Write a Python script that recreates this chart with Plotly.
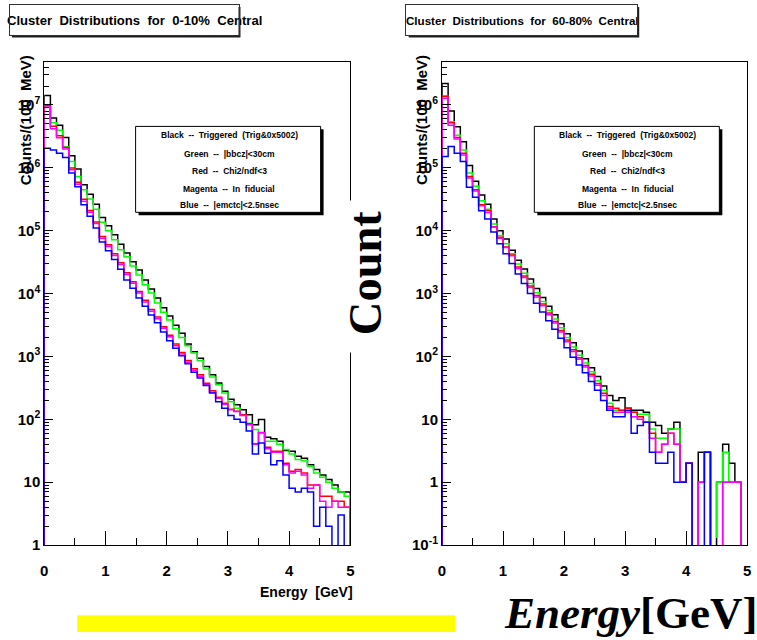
import plotly.graph_objects as go

# ---------------------------------------------------------------- data
# Counts per 100 MeV bin, 50 bins from 0 to 5 GeV
BIN_WIDTH = 0.1
N_BINS = 50

# 0-10% central
central_black = [14100000, 6200000, 4750000, 3050000, 1550000, 960000, 540000, 380000, 264000, 163000,
                 120000, 86000, 60700, 44400, 32000, 23700, 16500, 11800, 8500, 5930,
                 4390, 3130, 2350, 1575, 1190, 940, 690, 510, 380, 280,
                 209, 170, 142, 118, 82, 99, 52, 49, 45, 32,
                 31, 26, 24, 19, 16, 13, 11, 9, 7, 7]
central_green = [9800000, 5200000, 3960000, 2170000, 1260000, 730000, 450000, 320000, 220000, 136000,
                 100000, 72000, 50000, 38400, 27400, 19800, 13800, 10200, 7100, 5070,
                 3800, 2770, 2000, 1480, 1140, 860, 630, 470, 355, 263,
                 190, 150, 117, 87, 69, 61, 45, 45, 40, 33,
                 28, 23, 22, 18, 14, 12, 10, 8, 7, 6]
central_red = [9800000, 4600000, 3240000, 2100000, 990000, 590000, 316000, 210000, 138000, 81000,
               60000, 43200, 30900, 21500, 15500, 10800, 7820, 5590, 4230, 2980,
               2180, 1575, 1160, 860, 640, 514, 375, 285, 225, 180,
               145, 135, 118, 85, 41, 62, 36, 31, 31, 20,
               15, 16, 14, 9, 9, 6, 6, 5, 5, 4]
central_magenta = [9300000, 4200000, 3000000, 2000000, 930000, 550000, 295000, 197000, 130000, 76000,
                   56000, 40500, 29000, 20200, 14600, 10200, 7350, 5250, 3980, 2800,
                   2050, 1480, 1090, 810, 600, 485, 355, 270, 216, 174,
                   142, 133, 115, 82, 40, 61, 34, 30, 30, 19,
                   14, 15, 13, 8, 9, 5, 4, 5, 4, 4]
central_blue = [2050000, 1920000, 1710000, 1460000, 830000, 500000, 260000, 170000, 110000, 66000,
                48000, 35000, 24300, 16500, 12200, 8500, 6300, 4550, 3440, 2460,
                1780, 1350, 1030, 765, 560, 455, 345, 262, 190, 150,
                115, 100, 90, 65, 28, 42, 29, 19, 22, 13,
                8, 7, 8, 7, 2, 4, 2, 0, 3, 0]

# 60-80% central
periph_black = [2200000, 800000, 450000, 260000, 109000, 61000, 37000, 26400, 15300, 10000,
                7400, 4900, 3400, 2450, 1700, 1200, 870, 630, 460, 330,
                230, 165, 122, 92, 66, 48, 34, 24, 20, 22,
                15, 14, 14, 13, 9, 8, 6, 7, 9, 1,
                2, 0, 3, 3, 0, 1, 4, 2, 1, 0]
periph_green = [1370000, 540000, 330000, 192000, 83000, 51000, 30000, 22000, 12800, 8400,
                6200, 4300, 2950, 2100, 1450, 1030, 750, 540, 395, 285,
                200, 142, 105, 79, 57, 41, 29, 18, 14, 14,
                13, 13, 12, 12, 7, 5, 5, 7, 7, 1,
                2, 0, 1, 3, 0, 1, 3, 1, 1, 0]
periph_red = [1370000, 520000, 305000, 170000, 73000, 45000, 26000, 21000, 11600, 7900,
              5500, 4100, 2650, 1900, 1320, 930, 680, 490, 360, 260,
              182, 128, 95, 72, 52, 37, 26, 16, 15, 14,
              15, 13, 11, 9, 6, 3, 4, 6, 4, 1,
              2, 0, 1, 3, 0, 0, 1, 1, 1, 0]
periph_magenta = [1280000, 475000, 287000, 160000, 69000, 43000, 25000, 19500, 11500, 7600,
                  5400, 4000, 2500, 1800, 1250, 880, 640, 460, 340, 245,
                  172, 120, 90, 68, 49, 35, 24, 15, 13, 13,
                  13, 11, 10, 9, 5, 3, 4, 6, 4, 1,
                  2, 0, 1, 3, 0, 0, 1, 1, 1, 0]
periph_blue = [152000, 218000, 170000, 126000, 49000, 34000, 20700, 15300, 9500, 6200,
               4300, 3000, 2050, 1450, 1000, 700, 510, 370, 270, 195,
               138, 97, 73, 55, 40, 29, 20, 14, 11, 11,
               14, 6, 8, 9, 3, 2, 2, 3, 1, 1,
               2, 0, 0, 3, 0, 0, 0, 0, 0, 0]

SERIES_COLORS = ["#000000", "#00ff00", "#ff0000", "#ff00ff", "#0000ff"]

X_TICKS = [0, 1, 2, 3, 4, 5]
X_TICK_TEXT = ["0", "1", "2", "3", "4", "5"]
Y_TICKS_CENTRAL = [1, 10, 1e2, 1e3, 1e4, 1e5, 1e6, 1e7]
Y_TEXT_CENTRAL = ["1", "10", "10<sup>2</sup>", "10<sup>3</sup>", "10<sup>4</sup>",
                  "10<sup>5</sup>", "10<sup>6</sup>", "10<sup>7</sup>"]
Y_TICKS_PERIPH = [0.1, 1, 10, 1e2, 1e3, 1e4, 1e5, 1e6]
Y_TEXT_PERIPH = ["10<sup>-1</sup>", "1", "10", "10<sup>2</sup>", "10<sup>3</sup>",
                 "10<sup>4</sup>", "10<sup>5</sup>", "10<sup>6</sup>"]

LEGEND_LINES = ["Black  --  Triggered  (Trig&amp;0x5002)",
                "Green  --  |bbcz|&lt;30cm",
                "Red  --  Chi2/ndf&lt;3",
                "Magenta  --  In  fiducial",
                "Blue  --  |emctc|&lt;2.5nsec"]

W, H = 757, 640


def px(x):
    return x / W


def py(y):
    return 1 - y / H


def step_outline(counts, floor):
    """Closed ROOT-style histogram outline (hv steps) from bin counts."""
    edges = [round(i * BIN_WIDTH, 3) for i in range(N_BINS + 1)]
    vals = [c if c > 0 else floor for c in counts]
    xs = [edges[0]] + edges + [edges[-1]]
    ys = [floor] + vals + [vals[-1], floor]
    return xs, ys


fig = go.Figure()

panels = [
    ("x", "y", [central_black, central_green, central_red, central_magenta, central_blue], 1e-3),
    ("x2", "y2", [periph_black, periph_green, periph_red, periph_magenta, periph_blue], 1e-4),
]
for xa, ya, series, floor in panels:
    for counts, col in zip(series, SERIES_COLORS):
        xs, ys = step_outline(counts, floor)
        fig.add_trace(go.Scatter(x=xs, y=ys, mode="lines", xaxis=xa, yaxis=ya,
                                 line=dict(color=col, width=1.5, shape="hv"),
                                 hoverinfo="skip", showlegend=False))

TICK_FONT = dict(family="Liberation Sans, Arial", size=15, color="black", weight="bold")

x_common = dict(range=[0, 5], tickvals=X_TICKS, ticktext=X_TICK_TEXT, ticks="inside",
                ticklen=14, tickwidth=1, tickcolor="black", showline=True, mirror=True,
                linecolor="black", linewidth=1, showgrid=False, zeroline=False,
                tickfont=TICK_FONT, ticklabelstandoff=12,
                minor=dict(ticks="inside", ticklen=7, dtick=0.5,
                           tickcolor="black", showgrid=False))
y_common = dict(type="log", ticks="inside", ticklen=9, tickwidth=1, tickcolor="black",
                showline=True, mirror=True, linecolor="black", linewidth=1,
                showgrid=False, zeroline=False, tickfont=TICK_FONT,
                minor=dict(ticks="inside", ticklen=5, dtick="D1", tickcolor="black",
                           showgrid=False))

Y_DOMAIN = [py(552), py(63)]
fig.update_layout(
    width=W, height=H, autosize=False, margin=dict(l=0, r=0, t=0, b=0),
    paper_bgcolor="white", plot_bgcolor="white", showlegend=False,
    xaxis=dict(domain=[px(40.7), px(350)], anchor="y", **x_common),
    yaxis=dict(domain=Y_DOMAIN, anchor="x", range=[0, 7.68],
               tickvals=Y_TICKS_CENTRAL, ticktext=Y_TEXT_CENTRAL, **y_common),
    xaxis2=dict(domain=[px(442.7), px(751)], anchor="y2", **x_common),
    yaxis2=dict(domain=Y_DOMAIN, anchor="x2", range=[-1, 6.68],
                tickvals=Y_TICKS_PERIPH, ticktext=Y_TEXT_PERIPH, **y_common),
)

shapes = []
annotations = []


def paper_rect(x0, y0, x1, y1, fill, line_color=None, width=0):
    return dict(type="rect", xref="paper", yref="paper", x0=px(x0), x1=px(x1),
                y0=py(y1), y1=py(y0), fillcolor=fill, layer="above",
                line=dict(color=line_color or fill, width=width))


LABEL_FONT = dict(family="Liberation Sans, Arial", color="black", weight="bold")

# title panes: shadow, white fill, text, then the frame drawn over the text
for (bx0, bx1, tx, tsize, title) in [
        (6, 237, 8, 13.1, "Cluster  Distributions  for  0-10%  Central"),
        (407, 640, 411, 11.6, "Cluster  Distributions  for  60-80%  Central")]:
    shapes.append(paper_rect(bx0 + 2, 7, bx1 + 2, 38, "#202020"))
    shapes.append(paper_rect(bx0, 5, bx1, 36, "white"))
    annotations.append(dict(xref="paper", yref="paper", x=px(tx - 7), y=py(21),
                            xanchor="left", yanchor="middle", showarrow=False,
                            text=title, font=dict(size=tsize, **LABEL_FONT)))
    annotations.append(dict(xref="paper", yref="paper", x=px((bx0 + bx1) / 2), y=py(20.5),
                            xanchor="center", yanchor="middle", showarrow=False,
                            text=" ", width=bx1 - bx0 - 2, height=30, borderpad=0,
                            bordercolor="#303030", borderwidth=1))

# cut lists (legend panes)
for (lx0, lx1) in [(133, 320), (536, 723)]:
    shapes.append(paper_rect(lx0 + 3, 131, lx1 + 3, 218, "black"))
    shapes.append(paper_rect(lx0, 128, lx1, 215, "white", "black", 1))
    for ly, txt in zip([137, 156, 173, 191, 208], LEGEND_LINES):
        annotations.append(dict(xref="paper", yref="paper", x=px((lx0 + lx1) / 2 + 1), y=py(ly),
                                xanchor="center", yanchor="middle", showarrow=False,
                                text=txt, font=dict(size=8.5, **LABEL_FONT)))

# axis titles
for xt in (22, 422):
    annotations.append(dict(xref="paper", yref="paper", x=px(xt), y=py(122),
                            xanchor="center", yanchor="middle", showarrow=False,
                            textangle=-90, text="Counts/(100  MeV)",
                            font=dict(size=15, **LABEL_FONT)))
annotations.append(dict(xref="paper", yref="paper", x=px(355), y=py(599),
                        xanchor="right", yanchor="middle", showarrow=False,
                        text="Energy  [GeV]", font=dict(size=14, **LABEL_FONT)))

# large overlay labels on white patches
shapes.append(paper_rect(343, 203, 392, 357, "white"))
annotations.append(dict(xref="paper", yref="paper", x=px(365.5), y=py(276),
                        xanchor="center", yanchor="middle", showarrow=False,
                        textangle=-90, text="Count",
                        font=dict(family="Liberation Serif, Times New Roman", size=46.5,
                                  color="black", weight="bold")))
shapes.append(paper_rect(500, 584, 757, 640, "white"))
annotations.append(dict(xref="paper", yref="paper", x=px(633), y=py(621),
                        xanchor="center", yanchor="middle", showarrow=False,
                        text="<i>Energy</i>[GeV]",
                        font=dict(family="Liberation Serif, Times New Roman", size=45,
                                  color="black", weight="bold")))

shapes.append(paper_rect(74, 623, 456, 640, "#ffff00"))

fig.update_layout(shapes=shapes, annotations=annotations)
fig.write_html("out.html")
